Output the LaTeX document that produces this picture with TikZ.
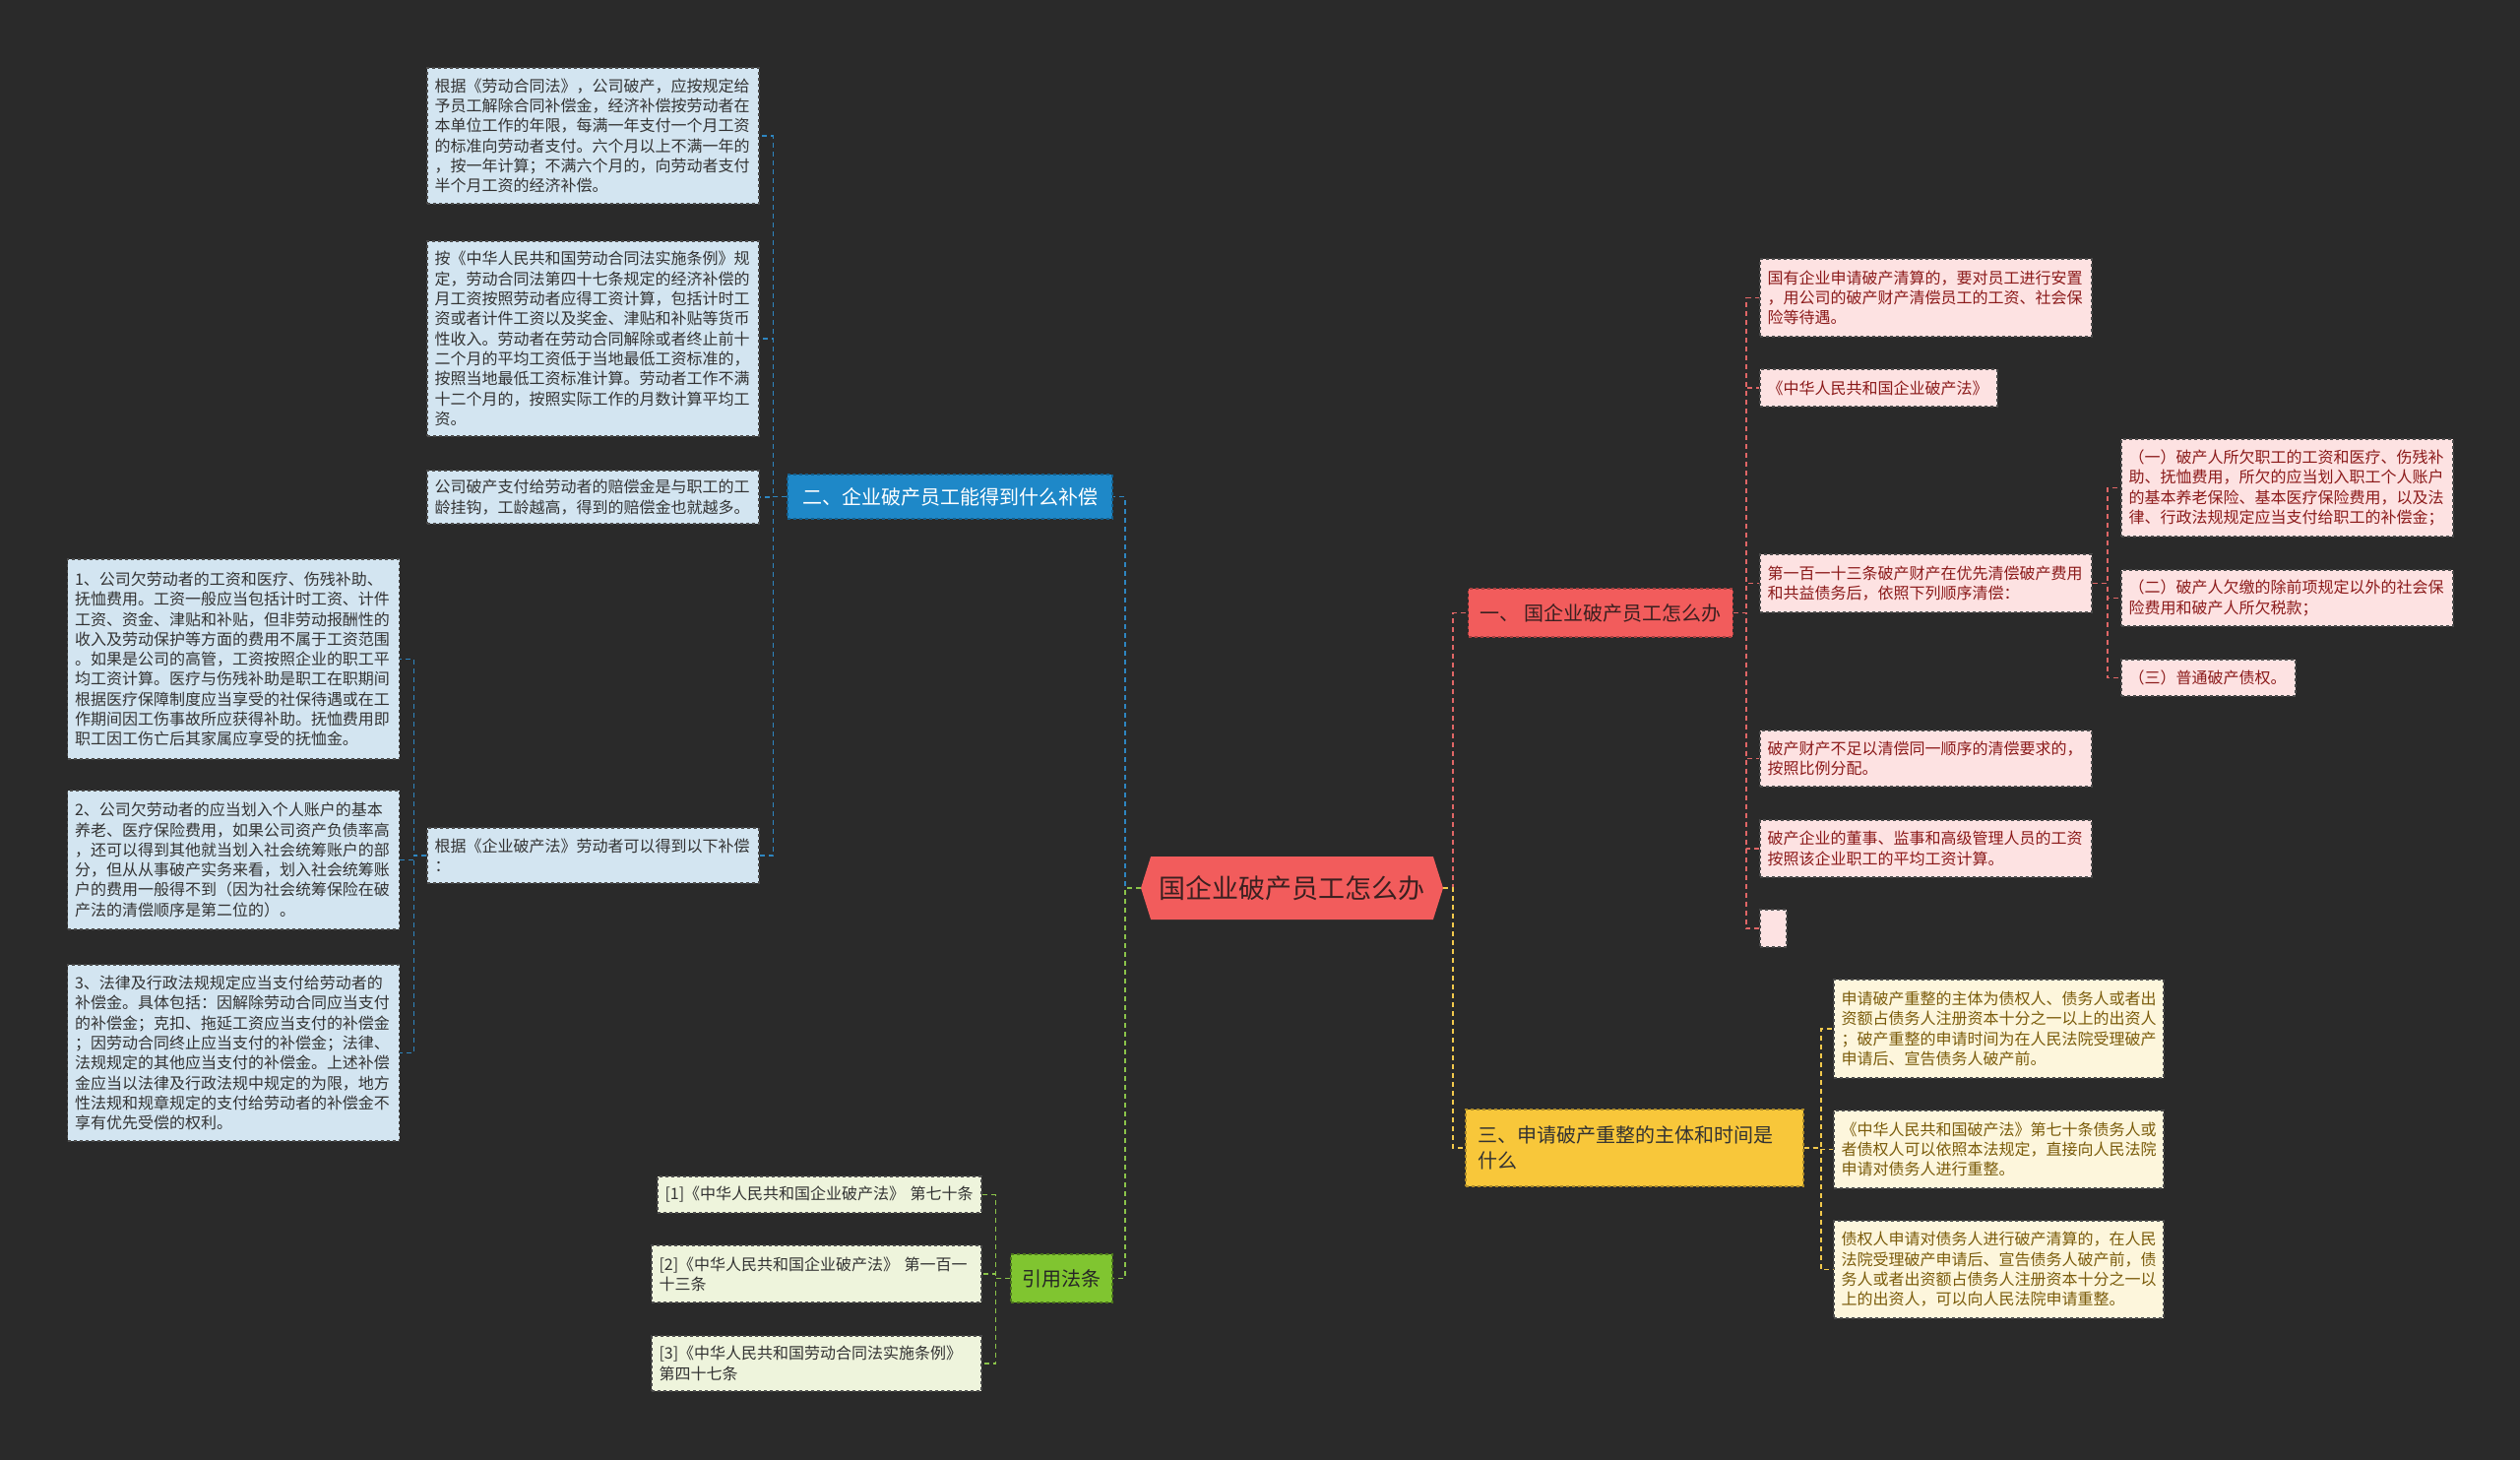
\documentclass[tikz,border=0pt]{standalone}
\usepackage{fontspec}
\setmainfont{Noto Sans CJK SC}
\usetikzlibrary{shapes.symbols}
\definecolor{bgdark}{HTML}{2A2A2A}
\definecolor{hubred}{HTML}{F25C5C}
\definecolor{hubtext}{HTML}{3A2020}
\definecolor{bluefill}{HTML}{1E88C8}
\definecolor{blueline}{HTML}{2E86C1}
\definecolor{blueleaf}{HTML}{D3E5F1}
\definecolor{redline}{HTML}{E06666}
\definecolor{redleaf}{HTML}{FDE2E2}
\definecolor{redtext}{HTML}{8B1A1A}
\definecolor{yelfill}{HTML}{F8C73A}
\definecolor{yelline}{HTML}{F2C94C}
\definecolor{yelleaf}{HTML}{FDF6DC}
\definecolor{yeltext}{HTML}{7A5B0A}
\definecolor{grnfill}{HTML}{80C530}
\definecolor{grnline}{HTML}{8BC34A}
\definecolor{grnleaf}{HTML}{EEF4DC}
\definecolor{leafedge}{HTML}{4A4A4A}
\begin{document}
\begin{tikzpicture}[
x=1pt, y=-1pt,
every node/.style={align=left, inner ysep=6pt},
leaf/.style={draw=leafedge, dashed, line width=1.2pt, inner xsep=7.5pt, text width=322pt, font=\fontsize{16}{20.3}\selectfont},
bleaf/.style={leaf, fill=blueleaf, text=black!80},
rleaf/.style={leaf, fill=redleaf, text=redtext},
yleaf/.style={leaf, fill=yelleaf, text=yeltext},
gleaf/.style={leaf, fill=grnleaf, text=black!80},
branch/.style={dashed, line width=1.2pt, inner xsep=12pt, font=\fontsize{20}{26}\selectfont},
link/.style={line width=1.8pt, dash pattern=on 5pt off 4pt},
linkb/.style={link, draw=blueline},
linkr/.style={link, draw=redline},
linky/.style={link, draw=yelline},
linkg/.style={link, draw=grnline}
]
\fill[bgdark] (0,0) rectangle (2560,1483);
\useasboundingbox (0,0) rectangle (2560,1483);

% hub
\node[signal, signal to=west and east, signal pointer angle=145, fill=hubred, text=hubtext,
  minimum width=307pt, minimum height=64pt, font=\fontsize{27}{32}\selectfont] (hub) at (1312.5,902) {国企业破产员工怎么办};

% main branches
\node[branch, draw=bluefill!70!black, fill=bluefill, text=white, minimum width=330pt, minimum height=45pt] (bmain) at (965,504.5) {二、企业破产员工能得到什么补偿};
\node[branch, draw=hubred!70!black, fill=hubred, text=hubtext, minimum width=268pt, minimum height=49pt] (rmain) at (1626,622.5) {一、 国企业破产员工怎么办};
\node[branch, draw=yelfill!70!black, fill=yelfill, text=black!80, text width=318pt, inner xsep=12.5pt, minimum height=78pt] (ymain) at (1660.5,1166) {三、申请破产重整的主体和时间是\\什么};
\node[branch, draw=grnfill!60!black, fill=grnfill, text=black!85, minimum width=103pt, minimum height=49pt, inner xsep=8pt] (gmain) at (1078.5,1298.5) {引用法条};

% blue leaves
\node[bleaf, minimum height=138pt] (b1) at (602.5,138) {根据《劳动合同法》，公司破产，应按规定给\\予员工解除合同补偿金，经济补偿按劳动者在\\本单位工作的年限，每满一年支付一个月工资\\的标准向劳动者支付。六个月以上不满一年的\\，按一年计算；不满六个月的，向劳动者支付\\半个月工资的经济补偿。};
\node[bleaf, minimum height=198pt] (b2) at (602.5,344) {按《中华人民共和国劳动合同法实施条例》规\\定，劳动合同法第四十七条规定的经济补偿的\\月工资按照劳动者应得工资计算，包括计时工\\资或者计件工资以及奖金、津贴和补贴等货币\\性收入。劳动者在劳动合同解除或者终止前十\\二个月的平均工资低于当地最低工资标准的，\\按照当地最低工资标准计算。劳动者工作不满\\十二个月的，按照实际工作的月数计算平均工\\资。};
\node[bleaf, minimum height=54pt] (b3) at (602.5,505) {公司破产支付给劳动者的赔偿金是与职工的工\\龄挂钩，工龄越高，得到的赔偿金也就越多。};
\node[bleaf, minimum height=56pt] (b4) at (602.5,869) {根据《企业破产法》劳动者可以得到以下补偿\\：};
\node[bleaf, minimum height=203pt] (c1) at (237,669.5) {1、公司欠劳动者的工资和医疗、伤残补助、\\抚恤费用。工资一般应当包括计时工资、计件\\工资、资金、津贴和补贴，但非劳动报酬性的\\收入及劳动保护等方面的费用不属于工资范围\\。如果是公司的高管，工资按照企业的职工平\\均工资计算。医疗与伤残补助是职工在职期间\\根据医疗保障制度应当享受的社保待遇或在工\\作期间因工伤事故所应获得补助。抚恤费用即\\职工因工伤亡后其家属应享受的抚恤金。};
\node[bleaf, minimum height=141pt] (c2) at (237,873.5) {2、公司欠劳动者的应当划入个人账户的基本\\养老、医疗保险费用，如果公司资产负债率高\\，还可以得到其他就当划入社会统筹账户的部\\分，但从从事破产实务来看，划入社会统筹账\\户的费用一般得不到（因为社会统筹保险在破\\产法的清偿顺序是第二位的）。};
\node[bleaf, minimum height=179pt] (c3) at (237,1069.5) {3、法律及行政法规规定应当支付给劳动者的\\补偿金。具体包括：因解除劳动合同应当支付\\的补偿金；克扣、拖延工资应当支付的补偿金\\；因劳动合同终止应当支付的补偿金；法律、\\法规规定的其他应当支付的补偿金。上述补偿\\金应当以法律及行政法规中规定的为限，地方\\性法规和规章规定的支付给劳动者的补偿金不\\享有优先受偿的权利。};

% red leaves
\node[rleaf, minimum height=79pt] (r1) at (1956.5,302.5) {国有企业申请破产清算的，要对员工进行安置\\，用公司的破产财产清偿员工的工资、社会保\\险等待遇。};
\node[rleaf, text width=226pt, minimum height=38pt] (r2) at (1908.5,394) {《中华人民共和国企业破产法》};
\node[rleaf, minimum height=59pt] (r3) at (1956.5,592.5) {第一百一十三条破产财产在优先清偿破产费用\\和共益债务后，依照下列顺序清偿：};
\node[rleaf, minimum height=57pt] (r4) at (1956.5,770.5) {破产财产不足以清偿同一顺序的清偿要求的，\\按照比例分配。};
\node[rleaf, minimum height=58pt] (r5) at (1956.5,862) {破产企业的董事、监事和高级管理人员的工资\\按照该企业职工的平均工资计算。};
\node[rleaf, text width=10pt, minimum width=27pt, minimum height=38pt] (r6) at (1801.5,943) {};
\node[rleaf, minimum height=99pt] (s1) at (2323.5,495.5) {（一）破产人所欠职工的工资和医疗、伤残补\\助、抚恤费用，所欠的应当划入职工个人账户\\的基本养老保险、基本医疗保险费用，以及法\\律、行政法规规定应当支付给职工的补偿金；};
\node[rleaf, minimum height=57pt] (s2) at (2323.5,607.5) {（二）破产人欠缴的除前项规定以外的社会保\\险费用和破产人所欠税款；};
\node[rleaf, text width=162pt, minimum height=37pt] (s3) at (2243.5,688.5) {（三）普通破产债权。};

% yellow leaves
\node[yleaf, text width=320pt, minimum height=100pt] (y1) at (2030.5,1045) {申请破产重整的主体为债权人、债务人或者出\\资额占债务人注册资本十分之一以上的出资人\\；破产重整的申请时间为在人民法院受理破产\\申请后、宣告债务人破产前。};
\node[yleaf, text width=320pt, minimum height=79pt] (y2) at (2030.5,1167.5) {《中华人民共和国破产法》第七十条债务人或\\者债权人可以依照本法规定，直接向人民法院\\申请对债务人进行重整。};
\node[yleaf, text width=320pt, minimum height=99pt] (y3) at (2030.5,1289.5) {债权人申请对债务人进行破产清算的，在人民\\法院受理破产申请后、宣告债务人破产前，债\\务人或者出资额占债务人注册资本十分之一以\\上的出资人，可以向人民法院申请重整。};

% green leaves
\node[gleaf, text width=314pt, minimum height=37pt] (g1) at (832.5,1213.5) {[1]《中华人民共和国企业破产法》 第七十条};
\node[gleaf, text width=320pt, minimum height=58pt] (g2) at (829.5,1294) {[2]《中华人民共和国企业破产法》 第一百一\\十三条};
\node[gleaf, text width=320pt, minimum height=56pt] (g3) at (829.5,1385) {[3]《中华人民共和国劳动合同法实施条例》\\第四十七条};

% connectors
\draw[linkb] (hub.west) -- ++(-16,0) |- (bmain.east);
\draw[linkg] (hub.west) -- ++(-16,0) |- (gmain.east);
\draw[linkr] (hub.east) -- ++(10,0) |- (rmain.west);
\draw[linky] (hub.east) -- ++(10,0) |- (ymain.west);
\foreach \n in {b1,b2,b3,b4} \draw[linkb] (bmain.west) -- ++(-14,0) |- (\n.east);
\foreach \n in {c1,c2,c3} \draw[linkb] (b4.west) -- ++(-13,0) |- (\n.east);
\foreach \n in {r1,r2,r3,r4,r5,r6} \draw[linkr] (rmain.east) -- ++(13,0) |- (\n.west);
\foreach \n in {s1,s2,s3} \draw[linkr] (r3.east) -- ++(15,0) |- (\n.west);
\foreach \n in {y1,y2,y3} \draw[linky] (ymain.east) -- ++(17,0) |- (\n.west);
\foreach \n in {g1,g2,g3} \draw[linkg] (gmain.west) -- ++(-15,0) |- (\n.east);
\end{tikzpicture}
\end{document}
